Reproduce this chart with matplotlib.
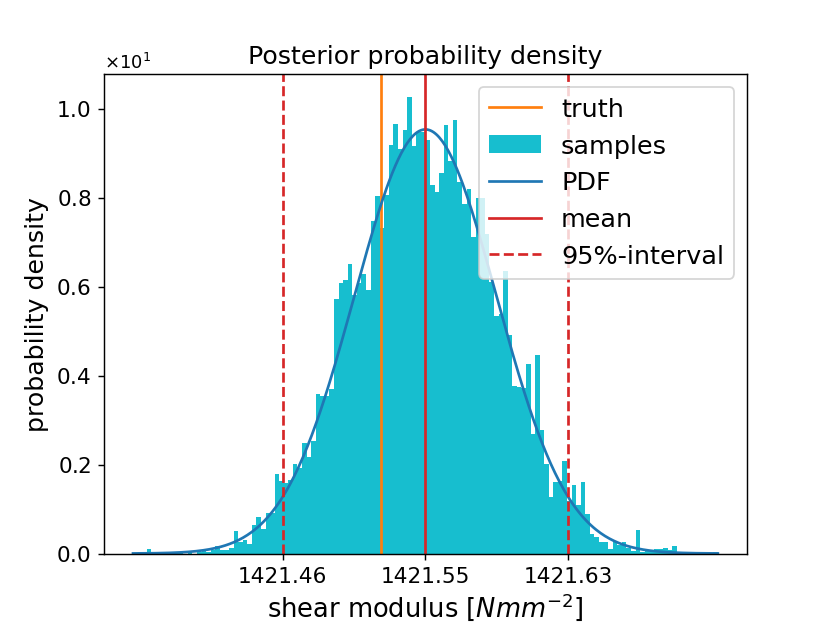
#!/usr/bin/env python3
"""Posterior probability density of the shear modulus: samples, fitted PDF and 95% interval."""

from __future__ import annotations

import matplotlib

matplotlib.use("Agg")
import matplotlib.pyplot as plt
import numpy as np

OUT_PATH = "out.png"

# histogram of posterior samples (density per bin)
SAMPLE_MIN = 1421.3759
SAMPLE_MAX = 1421.7201
SAMPLE_DENSITY = [
    0.00, 0.04, 0.00, 0.11, 0.00, 0.00, 0.00, 0.04, 0.00, 0.04,
    0.04, 0.00, 0.04, 0.00, 0.04, 0.07, 0.04, 0.09, 0.18, 0.07,
    0.09, 0.13, 0.50, 0.26, 0.31, 0.22, 0.65, 0.82, 0.56, 0.92,
    0.92, 1.78, 1.62, 1.58, 1.65, 2.01, 1.93, 2.48, 2.18, 2.53,
    3.59, 3.53, 3.53, 3.70, 5.73, 6.07, 6.14, 6.50, 5.80, 6.08,
    6.28, 5.92, 7.48, 8.04, 7.31, 8.06, 9.19, 9.65, 9.10, 9.51,
    10.26, 9.15, 9.47, 9.48, 9.30, 8.28, 8.13, 8.55, 9.63, 8.81,
    9.75, 8.36, 7.85, 8.19, 7.12, 8.00, 8.00, 7.18, 6.10, 5.33,
    5.38, 6.35, 4.90, 3.77, 3.75, 3.71, 4.25, 2.68, 4.46, 2.77,
    2.02, 1.28, 1.61, 1.63, 2.08, 1.19, 1.53, 1.10, 1.61, 0.88,
    0.43, 0.36, 0.25, 0.26, 0.11, 0.28, 0.20, 0.27, 0.12, 0.06,
    0.53, 0.04, 0.05, 0.05, 0.11, 0.11, 0.13, 0.08, 0.17, 0.02,
    0.02, 0.00, 0.02, 0.00, 0.00, 0.02, 0.00, 0.03,
]

# summary statistics
TRUTH = 1421.5221
MEAN = 1421.548
STD = 0.04186
INTERVAL_95 = [1421.464, 1421.632]


def _normal_pdf(x: np.ndarray, mu: float, sigma: float) -> np.ndarray:
    return np.exp(-0.5 * ((x - mu) / sigma) ** 2) / (sigma * np.sqrt(2.0 * np.pi))


def main() -> int:
    density = np.asarray(SAMPLE_DENSITY, dtype=np.float64)
    edges = np.linspace(SAMPLE_MIN, SAMPLE_MAX, len(density) + 1)
    x_pdf = np.linspace(SAMPLE_MIN, SAMPLE_MAX, 400)

    fig, ax = plt.subplots(figsize=(6.4, 4.8), dpi=129.7)
    ax.axvline(TRUTH, color="tab:orange", label="truth")
    ax.hist(edges[:-1], bins=edges, weights=density, color="tab:cyan", label="samples")
    ax.plot(x_pdf, _normal_pdf(x_pdf, MEAN, STD), color="tab:blue", label="PDF")
    ax.axvline(MEAN, color="tab:red", label="mean")
    ax.axvline(INTERVAL_95[0], color="tab:red", linestyle="--", label="95%-interval")
    ax.axvline(INTERVAL_95[1], color="tab:red", linestyle="--")

    ticks = [INTERVAL_95[0], MEAN, INTERVAL_95[1]]
    ax.set_xticks(ticks, [f"{t:.2f}" for t in ticks])
    ax.ticklabel_format(axis="y", style="sci", scilimits=(0, 0), useMathText=True)
    ax.tick_params(labelsize=12)
    ax.set_xlabel("shear modulus [$Nmm^{-2}$]", fontsize=14.3, labelpad=2.5)
    ax.set_ylabel("probability density", fontsize=14)
    ax.set_title("Posterior probability density", fontsize=14)
    ax.legend(loc="upper right", fontsize=14.2)

    fig.savefig(OUT_PATH)
    plt.close(fig)
    return 0


if __name__ == "__main__":
    raise SystemExit(main())
